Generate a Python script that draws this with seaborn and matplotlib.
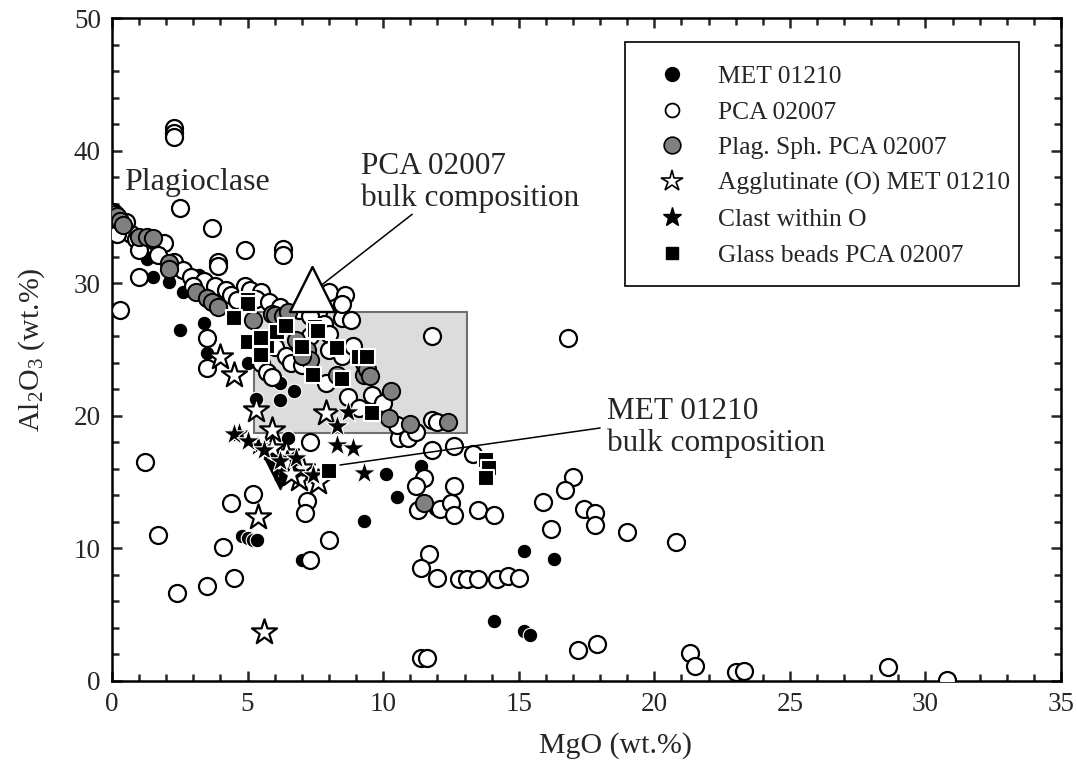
import matplotlib
matplotlib.use('Agg')
import matplotlib.pyplot as plt
import seaborn as sns
import pandas as pd
from matplotlib.lines import Line2D
from matplotlib.patches import Rectangle
from matplotlib.ticker import MultipleLocator

# ---------------- data (MgO wt.%, Al2O3 wt.%) ----------------
met_x = [1.5, 2.1, 2.6, 3.2, 1.3, 2.5, 3.4, 3.5, 5.0, 5.3, 6.2, 6.7, 6.2, 6.5,
         4.8, 5.0, 5.2, 5.35, 7.0, 9.3, 10.5, 10.1, 11.4, 11.9, 15.2, 16.3,
         14.1, 15.2, 15.4, 6.0]
met_y = [30.5, 30.1, 29.3, 30.6, 31.8, 26.5, 27.0, 24.7, 24.0, 21.3, 21.2, 21.9, 22.5, 18.3,
         10.9, 10.8, 10.6, 10.6, 9.1, 12.1, 13.9, 15.6, 16.2, 13.0, 9.8, 9.2,
         4.5, 3.8, 3.5, 17.0]

pca_x = [0.05, 0.1, 0.2, 0.3, 0.4, 0.5, 0.7, 0.2, 0.5, 0.9, 1.2, 1.6, 1.9, 1.0, 1.7,
         2.3, 2.6, 2.9, 3.4, 3.0, 3.8, 4.2, 4.4, 4.6, 4.9, 5.1, 5.5, 5.3, 5.8, 6.2,
         6.9, 7.6, 7.3, 7.8, 8.0, 8.5, 8.8, 8.0, 8.6, 8.5, 6.0, 6.4, 6.6, 7.0, 6.9,
         7.3, 8.0, 8.5, 8.9, 9.3, 7.9, 8.7, 9.6, 9.1, 10.0, 10.6, 10.9, 11.2,
         10.5, 11.8, 12.0, 11.8, 12.6, 13.3, 11.8, 5.5, 5.7, 5.9,
         2.3, 2.3, 2.3, 2.5, 3.7, 4.9, 6.3, 6.3, 3.9, 3.9, 1.0, 0.3, 3.5, 3.5, 1.2,
         7.3, 7.2, 7.1, 5.2, 4.4, 8.0, 7.3, 1.7, 2.4, 3.5, 4.5, 4.1,
         16.8, 11.5, 11.2, 12.6, 11.3, 12.1, 12.5, 12.6, 13.5, 14.1, 15.9, 17.0,
         16.7, 17.4, 17.8, 17.8, 19.0, 20.8, 16.2, 11.7, 11.4, 12.0, 12.8, 13.1,
         13.5, 14.2, 14.6, 15.0, 11.4, 11.6, 17.2, 17.9, 21.3, 21.5, 23.0, 23.3,
         28.6, 30.8]
pca_y = [35.4, 35.2, 34.8, 34.5, 34.2, 33.9, 33.7, 33.7, 34.6, 33.3, 32.9, 33.2, 33.0, 32.5, 32.1,
         31.6, 31.0, 30.5, 30.2, 29.8, 29.8, 29.5, 29.1, 28.7, 29.8, 29.5, 29.3, 28.8, 28.6, 28.2,
         28.0, 27.8, 27.5, 26.9, 26.2, 27.4, 27.2, 29.3, 29.1, 28.4, 25.2, 24.5, 24.0, 23.8, 25.5,
         26.0, 25.0, 24.5, 25.3, 24.0, 22.5, 21.4, 21.6, 20.6, 21.0, 18.3, 18.3, 18.8,
         19.3, 19.7, 19.5, 17.4, 17.7, 17.1, 26.0, 24.0, 23.3, 22.9,
         41.7, 41.3, 41.0, 35.7, 34.2, 32.5, 32.6, 32.1, 31.6, 31.3, 30.5, 28.0, 25.9, 23.6, 16.5,
         18.0, 13.6, 12.7, 14.1, 13.4, 10.6, 9.1, 11.0, 6.6, 7.2, 7.8, 10.1,
         25.9, 15.3, 14.7, 14.7, 12.9, 13.0, 13.4, 12.5, 12.9, 12.5, 13.5, 15.4,
         14.4, 13.0, 12.7, 11.8, 11.2, 10.5, 11.5, 9.6, 8.5, 7.8, 7.7, 7.7,
         7.7, 7.7, 7.9, 7.8, 1.7, 1.7, 2.3, 2.8, 2.1, 1.1, 0.7, 0.75,
         1.05, 0.07]

plag_x = [0.2, 0.3, 0.4, 1.0, 1.3, 1.5, 2.1, 2.1, 3.1, 3.5, 3.7, 3.9, 5.2, 5.9, 6.0,
          6.3, 6.5, 6.8, 7.2, 7.3, 7.0, 8.3, 9.3, 9.4, 9.5, 10.3, 10.2, 11.0, 12.4, 11.5]
plag_y = [35.1, 34.7, 34.4, 33.5, 33.5, 33.4, 31.5, 31.1, 29.3, 28.9, 28.6, 28.2, 27.2, 27.7, 27.6,
          27.5, 27.8, 25.7, 25.0, 24.2, 24.5, 23.1, 23.1, 23.5, 23.0, 21.9, 19.8, 19.4, 19.5, 13.4]

agg_x = [4.0, 4.5, 5.3, 5.9, 7.9, 6.4, 5.9, 6.9, 7.6, 7.0, 6.3, 6.45, 5.4, 5.6, 6.6]
agg_y = [24.4, 23.1, 20.4, 18.9, 20.2, 17.2, 17.6, 15.2, 15.0, 16.1, 16.0, 16.4, 12.4, 3.7, 15.6]

clast_x = [4.7, 5.4, 8.7, 8.3, 8.3, 8.9, 9.3, 4.5, 5.0, 5.6, 6.2, 6.8, 7.4]
clast_y = [18.7, 17.7, 20.3, 19.2, 17.8, 17.6, 15.7, 18.6, 18.1, 17.4, 16.6, 16.8, 15.5]

glass_x = [5.0, 5.0, 4.5, 5.0, 5.7, 6.1, 6.4, 5.5, 7.0, 7.5, 7.5, 8.3, 7.4, 8.5, 9.1,
           9.4, 9.6, 8.0, 13.8, 13.9, 13.8, 5.5, 7.6]
glass_y = [28.7, 28.4, 27.4, 25.6, 25.3, 26.3, 26.8, 24.6, 25.2, 26.7, 26.5, 25.1, 23.1, 22.8, 24.4,
           24.4, 20.2, 15.8, 16.7, 16.1, 15.3, 25.9, 26.4]

bulk_pca = (7.38, 29.6)
bulk_met = (6.2, 15.6)
box_x = (5.25, 13.1)
box_y = (18.7, 27.8)

legend_labels = ['MET 01210', 'PCA 02007', 'Plag. Sph. PCA 02007',
                 'Agglutinate (O) MET 01210', 'Clast within O', 'Glass beads PCA 02007']

# ---------------- style ----------------
sns.set_style('ticks')
plt.rcParams['font.family'] = ['Liberation Serif', 'DejaVu Serif']
plt.rcParams['mathtext.fontset'] = 'custom'
plt.rcParams['mathtext.rm'] = 'Liberation Serif'
plt.rcParams['mathtext.it'] = 'Liberation Serif:italic'

fig = plt.figure(figsize=(10.77, 7.7), dpi=100)
ax = fig.add_axes([0.1040, 0.1156, 0.8812, 0.8610])

ax.add_patch(Rectangle((box_x[0], box_y[0]), box_x[1] - box_x[0], box_y[1] - box_y[0],
                       facecolor='#dcdcdc', edgecolor='#707070', lw=1.5, zorder=1))

def sc(x, y, **kw):
    sns.scatterplot(x=x, y=y, ax=ax, legend=False, **kw)

sc(met_x, met_y, marker='o', s=110, color='black', edgecolor='white', linewidth=0.8, zorder=3)
sc(pca_x, pca_y, marker='o', s=150, color='white', edgecolor='black', linewidth=1.6, zorder=4)
sc(plag_x, plag_y, marker='o', s=155, color='#808080', edgecolor='black', linewidth=1.4, zorder=5)
sc([bulk_met[0]], [bulk_met[1]], marker='v', s=480, color='black', edgecolor='black', linewidth=1, zorder=5.5)
sc(agg_x, agg_y, marker='*', s=360, color='white', edgecolor='black', linewidth=1.6, zorder=6)
sc(clast_x, clast_y, marker='*', s=300, color='black', edgecolor='white', linewidth=0.8, zorder=7)
sc(glass_x, glass_y, marker='s', s=120, color='black', edgecolor='white', linewidth=1.5, zorder=8)
sc([bulk_pca[0]], [bulk_pca[1]], marker='^', s=1050, color='white', edgecolor='black', linewidth=1.7, zorder=9)

# annotation lines
ax.plot([7.75, 11.07], [29.9, 35.2], color='black', lw=1.1, zorder=10)
ax.plot([8.41, 18.0], [16.29, 19.08], color='black', lw=1.1, zorder=10)

ax.text(9.2, 37.6, 'PCA 02007\nbulk composition', fontsize=22.5, va='center', ha='left',
        linespacing=1.12)
ax.text(18.25, 19.1, 'MET 01210\nbulk composition', fontsize=22.5, va='center', ha='left',
        linespacing=1.12)
ax.text(0.45, 37.6, 'Plagioclase', fontsize=23, va='center', ha='left')

ax.set_xlim(0, 35)
ax.set_ylim(0, 50)
ax.xaxis.set_major_locator(MultipleLocator(5))
ax.xaxis.set_minor_locator(MultipleLocator(1))
ax.yaxis.set_major_locator(MultipleLocator(10))
ax.yaxis.set_minor_locator(MultipleLocator(2))
ax.tick_params(which='both', direction='in', top=True, right=True, width=1.8,
               labelsize=19.5, pad=8)
ax.tick_params(which='major', length=7.5)
ax.tick_params(which='minor', length=5)
for s in ax.spines.values():
    s.set_linewidth(1.8)
    s.set_color('black')

ax.set_xlabel('MgO (wt.%)', fontsize=21.5)
ax.set_ylabel('Al$_2$O$_3$ (wt.%)', fontsize=21.5)
ax.xaxis.set_label_coords(0.53, -0.077)
ax.yaxis.set_label_coords(-0.069, 0.5)

# legend frame + entries
ax.add_patch(Rectangle((625 / 1077, 1 - 286 / 770), (1019 - 625) / 1077, (286 - 42) / 770,
                       transform=fig.transFigure, facecolor='white', edgecolor='black',
                       lw=1.2, zorder=15, clip_on=False))
handles = [
    Line2D([], [], ls='', marker='o', ms=10, mfc='black', mec='black'),
    Line2D([], [], ls='', marker='o', ms=10, mfc='white', mec='black', mew=1.3),
    Line2D([], [], ls='', marker='o', ms=12, mfc='#808080', mec='black', mew=1.2),
    Line2D([], [], ls='', marker='*', ms=16, mfc='white', mec='black', mew=1.2),
    Line2D([], [], ls='', marker='*', ms=14, mfc='black', mec='black'),
    Line2D([], [], ls='', marker='s', ms=8, mfc='black', mec='black'),
]
leg = ax.legend(handles, legend_labels, loc='upper left',
                bbox_to_anchor=(653 / 1077, 1 - 65 / 770), bbox_transform=fig.transFigure,
                fontsize=18.4, frameon=False, borderpad=0, labelspacing=0.5,
                handletextpad=1.05, borderaxespad=0, handlelength=1.5)
leg.set_zorder(20)

fig.savefig('out.png', dpi=100)
